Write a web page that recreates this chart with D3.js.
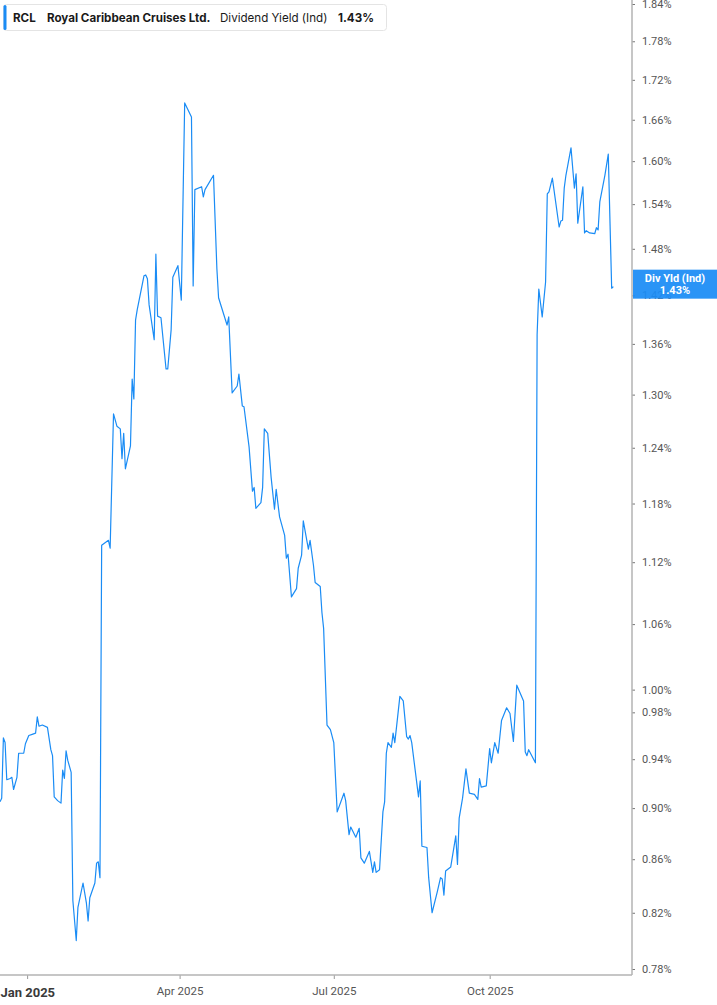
<!DOCTYPE html>
<html><head><meta charset="utf-8">
<script src="https://cdn.jsdelivr.net/npm/d3@7/dist/d3.min.js"></script>
<style>
html,body{margin:0;padding:0;background:#fff;}
svg{display:block;}
</style></head>
<body>
<svg id="chart" width="717" height="1005"></svg>
<script>
const dates = ["2024-12-16","2024-12-17","2024-12-18","2024-12-19","2024-12-20","2024-12-22","2024-12-23","2024-12-24","2024-12-26","2024-12-27","2024-12-30","2024-12-31",
"2025-01-02","2025-01-04","2025-01-06","2025-01-07","2025-01-08","2025-01-10","2025-01-13","2025-01-15","2025-01-16","2025-01-17","2025-01-19","2025-01-21","2025-01-22","2025-01-23","2025-01-24","2025-01-25","2025-01-27","2025-01-28","2025-01-30","2025-01-31",
"2025-02-03","2025-02-05","2025-02-06","2025-02-07","2025-02-10","2025-02-11","2025-02-12","2025-02-13","2025-02-14","2025-02-18","2025-02-19","2025-02-21","2025-02-23","2025-02-25","2025-02-26","2025-02-27","2025-02-28",
"2025-03-03","2025-03-04","2025-03-05","2025-03-06","2025-03-07","2025-03-11","2025-03-12","2025-03-13","2025-03-14","2025-03-17","2025-03-18","2025-03-19","2025-03-21","2025-03-24","2025-03-25","2025-03-27","2025-03-28","2025-03-31",
"2025-04-02","2025-04-04","2025-04-08","2025-04-09","2025-04-10","2025-04-14","2025-04-15","2025-04-16","2025-04-21","2025-04-23","2025-04-24","2025-04-25","2025-04-29","2025-04-30",
"2025-05-02","2025-05-05","2025-05-06","2025-05-08","2025-05-09","2025-05-12","2025-05-14","2025-05-15","2025-05-16","2025-05-19","2025-05-20","2025-05-21","2025-05-23","2025-05-25","2025-05-27","2025-05-28","2025-05-30",
"2025-06-02","2025-06-03","2025-06-04","2025-06-06","2025-06-09","2025-06-10","2025-06-12","2025-06-13","2025-06-16","2025-06-17","2025-06-19","2025-06-20","2025-06-23","2025-06-24","2025-06-25","2025-06-27","2025-06-29",
"2025-07-01","2025-07-03","2025-07-07","2025-07-08","2025-07-10","2025-07-11","2025-07-14","2025-07-16","2025-07-17","2025-07-19","2025-07-22","2025-07-24","2025-07-25","2025-07-26","2025-07-28","2025-07-30","2025-07-31",
"2025-08-01","2025-08-02","2025-08-04","2025-08-05","2025-08-06","2025-08-07","2025-08-09","2025-08-11","2025-08-13","2025-08-14","2025-08-15","2025-08-16","2025-08-20","2025-08-21","2025-08-22","2025-08-25","2025-08-26","2025-08-28","2025-08-31",
"2025-09-02","2025-09-03","2025-09-04","2025-09-05","2025-09-08","2025-09-11","2025-09-12","2025-09-13","2025-09-15","2025-09-17","2025-09-19","2025-09-22","2025-09-24","2025-09-25","2025-09-26","2025-09-29",
"2025-10-01","2025-10-02","2025-10-04","2025-10-06","2025-10-08","2025-10-11","2025-10-13","2025-10-15","2025-10-17","2025-10-21","2025-10-22","2025-10-23","2025-10-24","2025-10-28","2025-10-29","2025-10-30",
"2025-11-01","2025-11-03","2025-11-04","2025-11-05","2025-11-07","2025-11-11","2025-11-12","2025-11-13","2025-11-14","2025-11-15","2025-11-18","2025-11-20","2025-11-21","2025-11-22","2025-11-25","2025-11-26","2025-11-27","2025-11-29",
"2025-12-02","2025-12-03","2025-12-04","2025-12-05","2025-12-08","2025-12-10","2025-12-12","2025-12-13"];

const yields = [0.905,0.908,0.958,0.954,0.923,0.924,0.925,0.915,0.925,0.945,0.945,0.953,
0.960,0.961,0.962,0.976,0.968,0.969,0.967,0.948,0.943,0.909,0.906,0.904,0.931,0.924,0.947,0.939,0.929,0.829,0.800,0.824,
0.842,0.827,0.814,0.831,0.842,0.857,0.858,0.846,1.137,1.142,1.134,1.278,1.264,1.261,1.228,1.256,1.217,
1.242,1.318,1.295,1.389,1.402,1.445,1.446,1.441,1.408,1.365,1.473,1.394,1.392,1.330,1.330,1.377,1.443,1.458,
1.414,1.685,1.664,1.432,1.560,1.564,1.550,1.560,1.580,1.454,1.417,1.410,1.383,1.393,
1.302,1.310,1.324,1.287,1.286,1.241,1.193,1.197,1.175,1.181,1.197,1.261,1.256,1.208,1.174,1.195,1.166,
1.147,1.124,1.128,1.086,1.094,1.114,1.127,1.162,1.133,1.142,1.117,1.100,1.096,1.071,1.056,0.969,0.965,
0.954,0.897,0.912,0.906,0.879,0.885,0.877,0.884,0.861,0.857,0.866,0.850,0.858,0.850,0.852,0.897,0.905,
0.945,0.954,0.950,0.962,0.954,0.967,0.994,0.990,0.959,0.957,0.960,0.954,0.909,0.922,0.870,0.869,0.846,0.820,0.835,
0.846,0.845,0.833,0.851,0.854,0.878,0.856,0.892,0.908,0.932,0.912,0.911,0.907,0.924,0.917,0.918,
0.949,0.937,0.954,0.945,0.973,0.984,0.979,0.955,1.004,0.990,0.946,0.943,0.948,0.937,1.371,1.428,
1.393,1.437,1.554,1.557,1.576,1.509,1.517,1.518,1.562,1.580,1.619,1.562,1.582,1.514,1.564,1.501,1.504,1.501,
1.500,1.508,1.505,1.543,1.580,1.610,1.429,1.431];

const yTicks = [0.78,0.82,0.86,0.90,0.94,0.98,1.00,1.06,1.12,1.18,1.24,1.30,1.36,1.42,1.48,1.54,1.60,1.66,1.72,1.78,1.84];
const xTickDates = ["2025-01-01","2025-04-01","2025-07-01","2025-10-01"];
const xTickLabels = ["Jan 2025","Apr 2025","Jul 2025","Oct 2025"];
const xDomain = ["2024-12-16","2025-12-24"];
const ticker = "RCL";
const company = "Royal Caribbean Cruises Ltd.";
const metric = "Dividend Yield (Ind)";
const lastLabel = "1.43%";
const tagLabel = "Div Yld (Ind)";

const parse = d3.utcParse("%Y-%m-%d");
const data = dates.map((d,i)=>({date: parse(d), v: yields[i]}));

const svg = d3.select("#chart");
const plotRight = 632, axisY = 975;

const x = d3.scaleUtc().domain(xDomain.map(parse)).range([0, plotRight]);
const y = d3.scaleLog().domain([0.78, 1.84]).range([969, 4]);

const blue = "#1a8cf5";
const axisColor = "#b3b3b3";
const labelFont = "Roboto, 'Noto Sans', sans-serif";

// y axis
const yAxis = d3.axisRight(y).tickValues(yTicks).tickSize(3).tickPadding(7)
  .tickFormat(d => d3.format(".2f")(d) + "%");
const gy = svg.append("g").attr("transform", `translate(${plotRight},0)`).call(yAxis);
gy.select(".domain").remove();
gy.selectAll(".tick line").attr("stroke", "#777");
gy.selectAll(".tick text").attr("fill", "#555").attr("font-size", 11).attr("font-family", labelFont);
svg.append("line").attr("x1", plotRight).attr("x2", plotRight).attr("y1", 0).attr("y2", axisY)
  .attr("stroke", axisColor).attr("stroke-width", 1.5);

// x axis
const xAxis = d3.axisBottom(x).tickValues(xTickDates.map(parse)).tickSize(4).tickPadding(6)
  .tickFormat((d,i) => xTickLabels[i]);
const gx = svg.append("g").attr("transform", `translate(0,${axisY})`).call(xAxis);
gx.select(".domain").remove();
gx.selectAll(".tick line").attr("stroke", "#999");
gx.selectAll(".tick text").attr("fill", "#555").attr("font-size", 11.5).attr("font-family", labelFont)
  .attr("dy", "0.9em");
gx.selectAll(".tick text").filter((d,i)=>i===0).attr("font-weight", "bold").attr("fill", "#3a3a3a")
  .attr("font-size", 13).attr("text-anchor", "start").attr("x", -x(parse(xTickDates[0])));
svg.append("line").attr("x1", 0).attr("x2", plotRight).attr("y1", axisY).attr("y2", axisY)
  .attr("stroke", axisColor).attr("stroke-width", 1.5);

// line
const line = d3.line().x(d => x(d.date)).y(d => y(d.v));
svg.append("path").datum(data).attr("d", line).attr("fill", "none")
  .attr("stroke", blue).attr("stroke-width", 1.2).attr("stroke-linejoin", "round");

// last value tag
const last = data[data.length-1];
const ty = y(last.v);
svg.append("rect").attr("x", plotRight + 1).attr("y", ty - 17).attr("width", 717 - plotRight - 1).attr("height", 29)
  .attr("fill", blue).attr("fill-opacity", 0.93);
svg.append("text").attr("x", 675).attr("y", ty - 5).attr("text-anchor", "middle")
  .attr("fill", "#fff").attr("font-weight", "bold").attr("font-size", 11).attr("font-family", labelFont).text(tagLabel);
svg.append("text").attr("x", 675).attr("y", ty + 7).attr("text-anchor", "middle")
  .attr("fill", "#fff").attr("font-weight", "bold").attr("font-size", 11).attr("font-family", labelFont).text(lastLabel);

// header
const hg = svg.append("g");
hg.append("rect").attr("x", 3.5).attr("y", 4.5).attr("width", 383).attr("height", 26).attr("rx", 3)
  .attr("fill", "#fff").attr("stroke", "#e4e4e4");
hg.append("rect").attr("x", 3.5).attr("y", 5).attr("width", 3).attr("height", 25).attr("rx", 1.5).attr("fill", blue);
const hf = "Inter, Roboto, sans-serif";
const hy = 22;
const hs = 11.6;
hg.append("text").attr("x", 13).attr("y", hy).attr("font-family", hf).attr("font-size", hs).attr("font-weight", "bold").attr("fill", "#1a1a1a").text(ticker);
hg.append("text").attr("x", 47).attr("y", hy).attr("font-family", hf).attr("font-size", hs).attr("font-weight", "bold").attr("fill", "#1a1a1a").text(company);
hg.append("text").attr("x", 220).attr("y", hy).attr("font-family", hf).attr("font-size", hs).attr("fill", "#1a1a1a").text(metric);
hg.append("text").attr("x", 338).attr("y", hy).attr("font-family", hf).attr("font-size", hs).attr("font-weight", "bold").attr("fill", "#1a1a1a").text(lastLabel);
</script>
</body></html>
